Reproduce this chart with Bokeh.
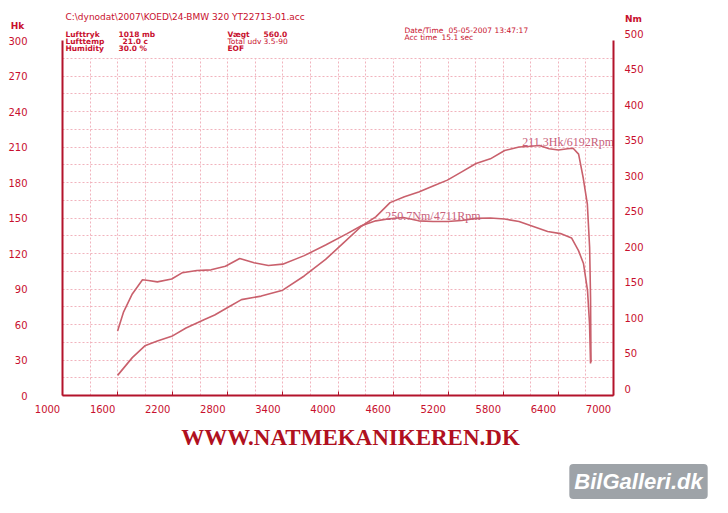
from bokeh.plotting import figure
from bokeh.models import Range1d, LinearAxis, FixedTicker, Label
from bokeh.core.properties import value
from bokeh.embed import file_html
from bokeh.resources import INLINE

# ---------------- data ----------------
power_rpm = [1600, 1760, 1897, 2033, 2189, 2345, 2540, 2657, 2813, 2949,
             3164, 3398, 3632, 3865, 4060, 4255, 4411, 4567, 4723, 4879,
             5035, 5191, 5347, 5503, 5659, 5815, 5971, 6100, 6192, 6300,
             6400, 6500, 6560, 6620, 6670, 6715, 6740, 6750, 6755]
power_hk = [17, 32, 42, 46, 50, 57, 64, 68, 75, 81,
            84, 89, 101, 115, 129, 143, 151, 163, 168, 172,
            177, 182, 189, 196, 200, 207, 210, 210.6, 211.3, 208.5,
            207.5, 208.5, 209, 204, 184, 162, 125, 83, 28]

torque_rpm = [1600, 1663, 1760, 1871, 1936, 2033, 2189, 2306, 2462, 2618,
              2774, 2930, 3086, 3242, 3398, 3632, 3865, 4099, 4255, 4411,
              4560, 4711, 4879, 5035, 5191, 5347, 5503, 5659, 5815, 5971,
              6127, 6283, 6423, 6543, 6619, 6673, 6717, 6739, 6750]
torque_nm = [91, 117, 143, 163, 162, 160, 164, 173, 176, 177,
             182, 193, 187, 183, 185, 197, 212, 228, 239, 246,
             249, 250.7, 246, 245, 245, 246.5, 249.5, 250, 248.5, 245,
             238, 231, 228, 222, 204, 186, 148, 101, 45]

peak_power_rpm = [6192]
peak_power_hk = [211.3]
peak_torque_rpm = [4711]
peak_torque_nm = [250.7]

x_ticks = [1000, 1600, 2200, 2800, 3400, 4000, 4600, 5200, 5800, 6400, 7000]
hk_ticks = [0, 30, 60, 90, 120, 150, 180, 210, 240, 270, 300]
nm_ticks = [0, 50, 100, 150, 200, 250, 300, 350, 400, 450, 500]
grid_x = [1300, 1600, 1900, 2200, 2500, 2800, 3100, 3400, 3700, 4000, 4300,
          4600, 4900, 5200, 5500, 5800, 6100, 6400, 6700]
grid_hk = [15, 30, 45, 60, 75, 90, 105, 120, 135, 150, 165, 180, 195, 210,
           225, 240, 255, 270, 285]

# ---------------- style ----------------
AXIS = "#b3132b"
TXT = "#c8102e"
CURVE = "#c9606c"
GRID = "#f1b3bd"
FONT = "DejaVu Sans"

W, H = 728, 513
# chart box in page pixels: rpm 1000..7000 -> x 62..613, 0..300 Hk -> y 395..40
KX = 551 / 6000.0
KY = 355 / 300.0
x0 = 1000 - 62 / KX
x1 = 7000 + (W - 613) / KX
y0 = -(H - 395) / KY
y1 = 300 + 40 / KY
SX = 15 / KX          # tick labels sit ~15px left of their ticks
SN = 7 / (KY * 0.6)   # right labels sit ~7px above their ticks

p = figure(width=W, height=H, output_backend="svg", toolbar_location=None,
           x_range=Range1d(x0, x1), y_range=Range1d(y0, y1),
           min_border=0)
p.outline_line_color = None
p.background_fill_color = "white"
p.border_fill_color = "white"

p.extra_y_ranges = {"nm": Range1d(y0 * 5 / 3, y1 * 5 / 3),
                    "nmlab": Range1d(y0 * 5 / 3 - SN, y1 * 5 / 3 - SN)}
p.extra_x_ranges = {"xlab": Range1d(x0 + SX, x1 + SX)}

# grid
p.xgrid.ticker = FixedTicker(ticks=grid_x)
p.ygrid.ticker = FixedTicker(ticks=grid_hk)
for g in (p.xgrid, p.ygrid):
    g.grid_line_color = GRID
    g.grid_line_dash = "2 2"
    g.grid_line_width = 1
p.xgrid.cross_bounds = (0, 285)
p.ygrid.cross_bounds = (1000, 7000)

# main bottom axis: line + inward ticks (labels drawn by the axis below)
xa = p.xaxis[0]
xa.ticker = FixedTicker(ticks=x_ticks)
xa.bounds = (1000, 7000)
xa.fixed_location = 0
xa.axis_line_color = AXIS
xa.axis_line_width = 2
xa.major_tick_line_color = AXIS
xa.major_tick_in = 4
xa.major_tick_out = 0
xa.minor_tick_line_color = None
xa.major_label_text_color = None
xa.major_label_standoff = 0

# bottom tick labels
xl = LinearAxis(x_range_name="xlab", ticker=FixedTicker(ticks=x_ticks),
                bounds=(1000, 7000), fixed_location=0)
xl.axis_line_color = None
xl.major_tick_line_color = None
xl.minor_tick_line_color = None
xl.major_label_standoff = 3
xl.major_label_text_font = FONT
xl.major_label_text_font_size = "10px"
xl.major_label_text_color = TXT
p.add_layout(xl, "below")

# left axis (Hk)
ya = p.yaxis[0]
ya.ticker = FixedTicker(ticks=hk_ticks)
ya.bounds = (0, 300)
ya.fixed_location = 1000
ya.axis_line_color = AXIS
ya.axis_line_width = 2
ya.major_tick_line_color = None
ya.minor_tick_line_color = None
ya.major_label_standoff = 29
ya.major_label_text_font = FONT
ya.major_label_text_font_size = "10px"
ya.major_label_text_color = TXT

# right axis line (Nm)
yr = LinearAxis(y_range_name="nm", ticker=FixedTicker(ticks=nm_ticks),
                bounds=(0, 500), fixed_location=7000)
yr.axis_line_color = AXIS
yr.axis_line_width = 2
yr.major_tick_line_color = None
yr.minor_tick_line_color = None
yr.major_label_text_color = None
yr.major_label_standoff = 0
p.add_layout(yr, "right")

# right labels
yl = LinearAxis(y_range_name="nmlab", ticker=FixedTicker(ticks=nm_ticks),
                bounds=(0, 500), fixed_location=7000)
yl.axis_line_color = None
yl.major_tick_line_color = None
yl.minor_tick_line_color = None
yl.major_label_standoff = 5
yl.major_label_text_font = FONT
yl.major_label_text_font_size = "10px"
yl.major_label_text_color = TXT
p.add_layout(yl, "right")

# curves
p.line(torque_rpm, torque_nm, y_range_name="nm", line_color=CURVE, line_width=1.6)
p.line(power_rpm, power_hk, line_color=CURVE, line_width=1.6)

# peak annotations
p.text(x=peak_power_rpm, y=peak_power_hk,
       text=[f"{v}Hk/{r}Rpm" for v, r in zip(peak_power_hk, peak_power_rpm)],
       x_offset=-17, y_offset=-3, text_font=value("Liberation Serif"),
       text_font_size="12px", text_color="#c8607a", text_baseline="middle")
p.text(x=peak_torque_rpm, y=peak_torque_nm, y_range_name="nm",
       text=[f"{v}Nm/{r}Rpm" for v, r in zip(peak_torque_nm, peak_torque_rpm)],
       x_offset=-18, y_offset=-2, text_font=value("Liberation Serif"),
       text_font_size="12px", text_color="#c8607a", text_baseline="middle")


def lab(x, y, t, size="7.5px", align="left", color=TXT, font=FONT, style="bold", **kw):
    # x, y are page pixels from the top-left corner
    p.add_layout(Label(x=x, y=H - y, x_units="screen", y_units="screen", text=t,
                       text_font=font, text_font_size=size, text_color=color,
                       text_align=align, text_baseline="middle",
                       text_font_style=style, **kw))


# axis unit labels
lab(17, 25, "Hk", size="9px", align="center")
lab(633, 18, "Nm", size="9px", align="center")

# header
lab(65, 16, "C:\\dynodat\\2007\\KOED\\24-BMW 320 YT22713-01.acc", style="normal", size="9px")
lab(65, 33.5, "Lufttryk")
lab(118, 33.5, "1018 mb")
lab(65, 40.5, "Lufttemp")
lab(122, 40.5, "21.0 c")
lab(65, 47.5, "Humidity")
lab(118, 47.5, "30.0 %")
lab(227, 33.5, "Vægt")
lab(263, 33.5, "560.0")
lab(227, 40.5, "Total udv", style="normal")
lab(263, 40.5, "3.5-90", style="normal")
lab(227, 47.5, "EOF")
lab(404, 30, "Date/Time", size="7.5px", style="normal")
lab(448, 30, "05-05-2007 13:47:17", size="7.5px", style="normal")
lab(404, 36.5, "Acc time", size="7.5px", style="normal")
lab(441, 36.5, "15.1 sec", size="7.5px", style="normal")

# footer URL
lab(350, 437, "WWW.NATMEKANIKEREN.DK", size="23px", align="center",
    color="#b01020", font="Liberation Serif")

# watermark
lab(638, 481, "BilGalleri.dk", size="22px", align="center", color="white",
    font="Liberation Sans", style="bold italic",
    background_fill_color="#9ea3a8", padding=5, border_radius=4)

open("out.html", "w").write(file_html(p, INLINE))
